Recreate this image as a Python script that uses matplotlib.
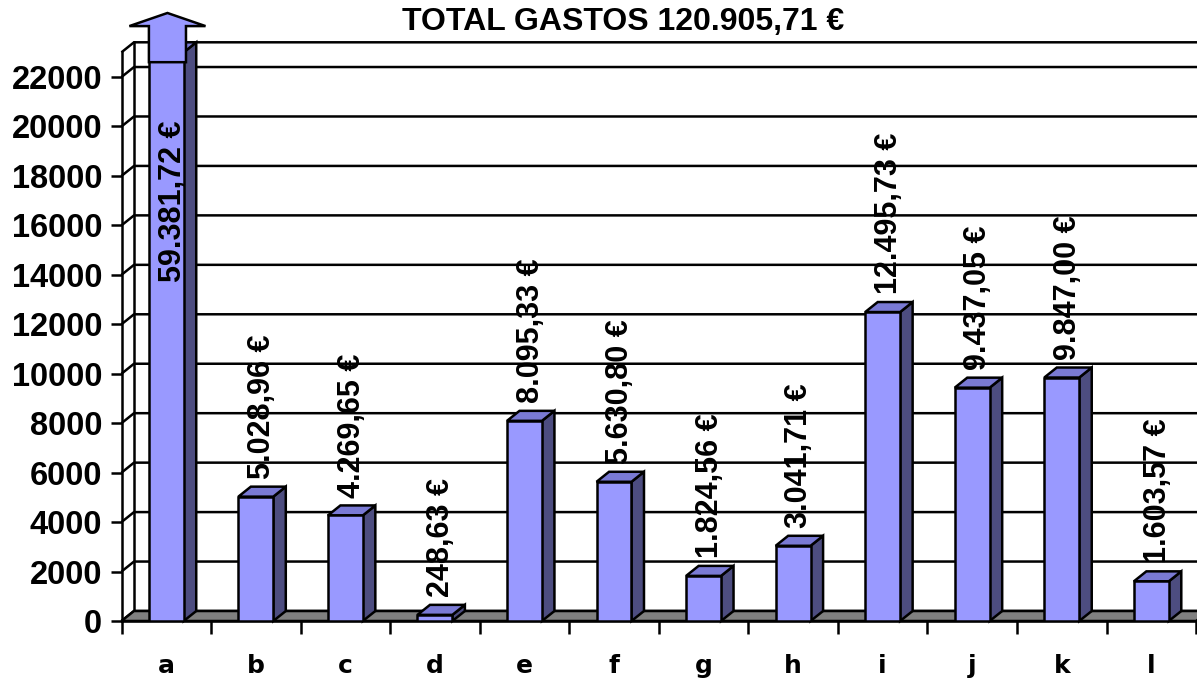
import matplotlib
matplotlib.use('Agg')
import matplotlib.pyplot as plt
from matplotlib.patches import Polygon

# data
categories = ['a', 'b', 'c', 'd', 'e', 'f', 'g', 'h', 'i', 'j', 'k', 'l']
gastos = [59381.72, 5028.96, 4269.65, 248.63, 8095.33, 5630.80,
          1824.56, 3041.71, 12495.73, 9437.05, 9847.00, 1603.57]
y_ticks = [0, 2000, 4000, 6000, 8000, 10000, 12000, 14000, 16000, 18000, 20000, 22000]
title = 'TOTAL GASTOS 120.905,71 €'

YMAX = 23000
N = len(categories)
BAR_W = 0.39
FRONT = '#9999FF'
SIDE = '#4D4D80'
TOP = '#7A7AD4'
FLOOR = '#808080'
LW = 1.8
FONT = 'Liberation Sans'


def euros(v):
    # spanish number format: 12.495,73 €
    s = f'{v:,.2f}'.replace(',', 'X').replace('.', ',').replace('X', '.')
    return s + ' €'


fig = plt.figure(figsize=(11.97, 6.79), dpi=100)
W, H = 1197, 679
ax_w, ax_h = 1074.6, 568.7
ax = fig.add_axes([121.5 / W, 58 / H, ax_w / W, ax_h / H])
ax.set_xlim(0, N)
ax.set_ylim(0, YMAX)

# depth of the fake 3D effect, pixels -> data units
dx = 12.5 / (ax_w / N)
dy = 10 / (ax_h / YMAX)

# back wall gridlines + left wall slants
for v in y_ticks + [YMAX]:
    ax.plot([0, dx, N + dx], [v, v + dy, v + dy], color='black', lw=LW,
            clip_on=False, zorder=1, solid_capstyle='butt')
ax.plot([dx, dx], [dy, YMAX + dy], color='black', lw=LW, clip_on=False, zorder=1)

# floor
ax.add_patch(Polygon([(0, 0), (dx, dy), (N + dx, dy), (N, 0)], closed=True,
                     fc=FLOOR, ec='black', lw=LW, zorder=2, clip_on=False))

# bars (front face through ax.bar, side and top faces as polygons)
x = [i + 0.5 for i in range(N)]
heights = [min(v, YMAX) for v in gastos]
ax.bar(x, heights, width=BAR_W, color=FRONT, edgecolor='black', lw=LW, zorder=4)
for xi, h in zip(x, heights):
    xl, xr = xi - BAR_W / 2, xi + BAR_W / 2
    ax.add_patch(Polygon([(xr, 0), (xr + dx, dy), (xr + dx, h + dy), (xr, h)],
                         closed=True, fc=SIDE, ec='black', lw=LW, zorder=3, clip_on=False))
    ax.add_patch(Polygon([(xl, h), (xl + dx, h + dy), (xr + dx, h + dy), (xr, h)],
                         closed=True, fc=TOP, ec='black', lw=LW, zorder=3, clip_on=False))

# value labels, and an arrow on top of bars that go off the scale
for xi, v, h in zip(x, gastos, heights):
    if v > YMAX:
        sw, hw = 0.207, 0.425
        xc = xi + 0.013
        y0, y1, y2 = YMAX - 400, YMAX + 1060, YMAX + 1590
        ax.add_patch(Polygon([(xc - sw, y0), (xc - sw, y1), (xc - hw, y1), (xc, y2),
                              (xc + hw, y1), (xc + sw, y1), (xc + sw, y0)],
                             closed=True, fc=FRONT, ec='black', lw=LW, zorder=5,
                             clip_on=False))
        ax.text(xi + dx / 2, YMAX - 2740, euros(v), rotation=90, ha='center',
                va='top', fontsize=22, fontweight='bold', family=FONT, zorder=6)
    else:
        ax.text(xi + dx / 2, h + dy + 320, euros(v), rotation=90, ha='center',
                va='bottom', fontsize=22, fontweight='bold', family=FONT, zorder=6)

# axes, ticks
for side in ['top', 'right']:
    ax.spines[side].set_visible(False)
for side in ['left', 'bottom']:
    ax.spines[side].set_linewidth(LW)
    ax.spines[side].set_zorder(2.5)

ax.set_yticks(y_ticks)
ax.set_yticklabels([str(t) for t in y_ticks], fontsize=23.5, fontweight='bold', family=FONT)
ax.tick_params(axis='y', length=8, width=LW, pad=6)

ax.set_xticks(range(N + 1))
ax.set_xticklabels([])
ax.tick_params(axis='x', which='major', length=9, width=LW, direction='out')
ax.set_xticks(x, minor=True)
ax.set_xticklabels(categories, minor=True, fontsize=18, fontweight='bold')
ax.tick_params(axis='x', which='minor', length=0, pad=24)

fig.text(623.5 / W, 1 - 30 / H, title, ha='center', va='baseline',
         fontsize=23, fontweight='bold', family=FONT)

fig.savefig('out.png', dpi=100)
